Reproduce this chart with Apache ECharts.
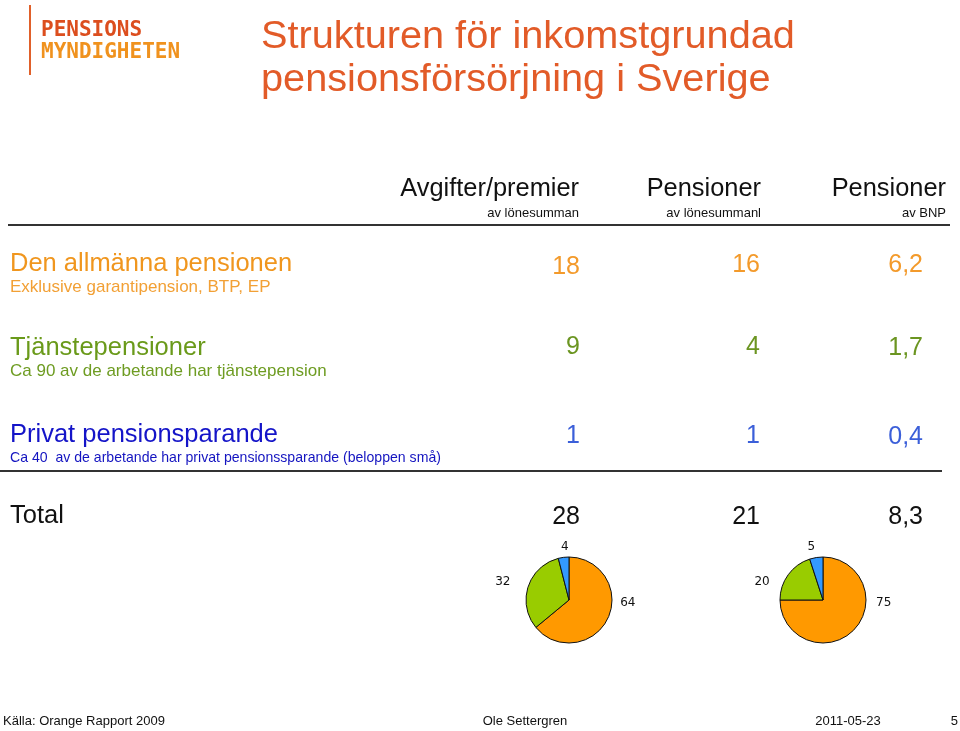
<!DOCTYPE html>
<html>
<head>
<meta charset="utf-8">
<script src="https://cdn.jsdelivr.net/npm/echarts@6/dist/echarts.min.js"></script>
<style>
html,body{margin:0;padding:0;background:#fff;}
#chart{width:960px;height:731px;}
</style>
</head>
<body>
<div id="chart"></div>
<script>
// ---- data ----
var titleLines = ['Strukturen för inkomstgrundad', 'pensionsförsörjning i Sverige'];
var columnHeads = ['Avgifter/premier', 'Pensioner', 'Pensioner'];
var columnSubs = ['av lönesumman', 'av lönesummanl', 'av BNP'];
var rowLabels = ['Den allmänna pensionen', 'Tjänstepensioner', 'Privat pensionsparande'];
var rowSubLabels = ['Exklusive garantipension, BTP, EP', 'Ca 90 av de arbetande har tjänstepension', 'Ca 40  av de arbetande har privat pensionssparande (beloppen små)'];
var avgifter = [18, 9, 1];
var pensionerLon = [16, 4, 1];
var pensionerBnp = [6.2, 1.7, 0.4];
var totalLabel = 'Total';
var totals = [28, 21, 8.3];
var pieAvgifter = [64, 32, 4];
var piePensioner = [75, 20, 5];
var footer = ['Källa: Orange Rapport 2009', 'Ole Settergren', '2011-05-23', '5'];

function fmt(v){ return String(v).replace('.', ','); }

var rowColors = ['#F0961E', '#6A9A1A', '#1414C8'];
var subColors = ['#F2A035', '#6E9C22', '#1414C0'];
var valColors = ['#F39A2B', '#6B9521', '#3B5FD9'];
var sliceColors = ['#FF9900', '#99CC00', '#3399FF'];

var g = [];
// logo
g.push({type:'line', shape:{x1:30,y1:5,x2:30,y2:75}, style:{stroke:'#E0602A', lineWidth:2}});
g.push({type:'text', left:41, top:20, style:{text:'PENSIONS', fill:'#DC4E1E', font:'bold 21px "DejaVu Sans Mono"'}});
g.push({type:'text', left:41, top:42, style:{text:'MYNDIGHETEN', fill:'#F0921E', font:'bold 21px "DejaVu Sans Mono"'}});
// title
var titleY = [37, 80];
titleLines.forEach(function(t, i){
  g.push({type:'text', x:261, y:titleY[i], style:{text:t, fill:'#E25B28', font:'39.7px "Liberation Sans", Arial', textAlign:'left', textVerticalAlign:'middle'}});
});
// column headers
var colRight = [579, 761, 946];
var valRight = [580, 760, 923];
columnHeads.forEach(function(t, i){
  g.push({type:'text', x:colRight[i], y:189, style:{text:t, fill:'#111', font:'25.4px "Liberation Sans", Arial', textAlign:'right', textVerticalAlign:'middle'}});
  g.push({type:'text', x:colRight[i], y:213, style:{text:columnSubs[i], fill:'#111', font:'13px "Liberation Sans", Arial', textAlign:'right', textVerticalAlign:'middle'}});
});
// separator lines
g.push({type:'line', shape:{x1:8,y1:225,x2:950,y2:225}, style:{stroke:'#333', lineWidth:2}});
g.push({type:'line', shape:{x1:0,y1:471,x2:942,y2:471}, style:{stroke:'#333', lineWidth:2}});
// rows
var rowY = [264, 348, 435];
var subY = [287, 371, 458];
var subSize = [17, 17, 14.1];
var valY = [[267, 265, 265], [347, 347, 348], [436, 436, 437]];
rowLabels.forEach(function(t, i){
  g.push({type:'text', x:10, y:rowY[i], style:{text:t, fill:rowColors[i], font:'25.5px "Liberation Sans", Arial', textAlign:'left', textVerticalAlign:'middle'}});
  g.push({type:'text', x:10, y:subY[i], style:{text:rowSubLabels[i], fill:subColors[i], font:subSize[i] + 'px "Liberation Sans", Arial', textAlign:'left', textVerticalAlign:'middle'}});
  [avgifter[i], pensionerLon[i], pensionerBnp[i]].forEach(function(v, c){
    g.push({type:'text', x:valRight[c], y:valY[i][c], style:{text:fmt(v), fill:valColors[i], font:'25px "Liberation Sans", Arial', textAlign:'right', textVerticalAlign:'middle'}});
  });
});
// total
g.push({type:'text', x:10, y:516, style:{text:totalLabel, fill:'#111', font:'25.5px "Liberation Sans", Arial', textAlign:'left', textVerticalAlign:'middle'}});
totals.forEach(function(v, c){
  g.push({type:'text', x:valRight[c], y:517, style:{text:fmt(v), fill:'#111', font:'25px "Liberation Sans", Arial', textAlign:'right', textVerticalAlign:'middle'}});
});
// footer
var fx = [3, 525, 848, 958];
var fa = ['left', 'center', 'center', 'right'];
footer.forEach(function(t, i){
  g.push({type:'text', x:fx[i], y:721, style:{text:t, fill:'#111', font:'13px "Liberation Sans", Arial', textAlign:fa[i], textVerticalAlign:'middle'}});
});

// label nudges (per series, per slice)
var labelNudge = [
  [{dx:0, dy:-19}, {dx:-5, dy:-2}, {dx:11, dy:-3}],
  [{dx:12, dy:-33}, {dx:-7, dy:12}, {dx:5, dy:-3}]
];

function pieSeries(data, cx, si){
  return {
    type:'pie', center:[cx, 600], radius:[0, 43], startAngle:90, clockwise:true,
    animation:false, silent:true,
    data:data.map(function(v, i){ return {value:v, name:String(i), itemStyle:{color:sliceColors[i]}}; }),
    itemStyle:{borderColor:'#111', borderWidth:1},
    label:{show:true, position:'outside', formatter:'{c}', color:'#111', fontFamily:'"DejaVu Sans"', fontSize:12},
    labelLine:{show:false, length:8, length2:0},
    labelLayout:function(p){ return labelNudge[si][p.dataIndex]; }
  };
}

var chart = echarts.init(document.getElementById('chart'), null, {renderer:'canvas'});
chart.setOption({
  backgroundColor:'#fff',
  animation:false,
  graphic:g,
  series:[pieSeries(pieAvgifter, 569, 0), pieSeries(piePensioner, 823, 1)]
});
</script>
</body>
</html>
